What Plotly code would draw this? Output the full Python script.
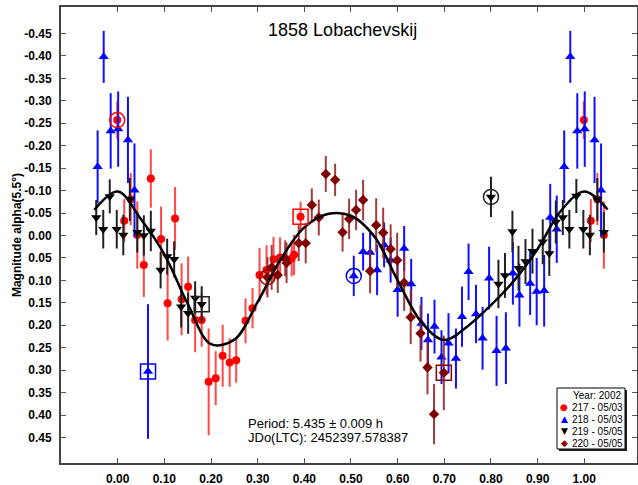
import plotly.graph_objects as go

# ---------------- data ----------------
x_red = [-0.001, 0.014, 0.028, 0.042, 0.056, 0.071, 0.093, 0.107, 0.123, 0.137, 0.151, 0.166, 0.180,
         0.195, 0.210, 0.225, 0.240, 0.254, 0.274, 0.289, 0.304, 0.319, 0.334, 0.348, 0.373, 0.378,
         0.392, 0.999, 1.014, 1.028, 1.042]
y_red = [-0.257, -0.033, -0.081, -0.001, 0.066, -0.127, 0.008, 0.151, -0.038, 0.142, 0.114, 0.188, 0.188,
         0.326, 0.318, 0.268, 0.283, 0.278, 0.190, 0.162, 0.088, 0.077, 0.053, 0.049, 0.051, 0.043,
         -0.042, -0.257, -0.033, -0.081, -0.001]
e_red = [0.042, 0.048, 0.058, 0.075, 0.071, 0.065, 0.072, 0.083, 0.070, 0.080, 0.067, 0.072, 0.060,
         0.119, 0.060, 0.069, 0.054, 0.050, 0.050, 0.045, 0.060, 0.055, 0.050, 0.045, 0.040, 0.045,
         0.033, 0.042, 0.048, 0.058, 0.075]

x_blue = [-0.043, -0.030, -0.015, 0.001, 0.022, 0.036, 0.065, 0.506, 0.526, 0.541, 0.556, 0.571, 0.585,
          0.600, 0.614, 0.629, 0.651, 0.665, 0.679, 0.694, 0.709, 0.725, 0.738, 0.752, 0.768, 0.782,
          0.796, 0.812, 0.832, 0.847, 0.861, 0.884, 0.898, 0.914, 0.927, 0.941, 0.957, 0.970, 0.985,
          1.001, 1.022, 1.036]
y_blue = [-0.153, -0.398, -0.233, -0.237, -0.213, -0.101, 0.303, 0.090, 0.036, 0.038, 0.077, 0.021, 0.055,
          0.121, 0.029, 0.108, 0.196, 0.233, 0.203, 0.271, 0.240, 0.274, 0.181, 0.081, 0.175, 0.229,
          0.095, 0.257, 0.251, 0.084, 0.133, 0.107, 0.125, 0.123, -0.040, -0.014, -0.153, -0.398, -0.233,
          -0.237, -0.213, -0.101]
e_blue = [0.081, 0.058, 0.084, 0.084, 0.096, 0.104, 0.150, 0.045, 0.042, 0.045, 0.056, 0.050, 0.050,
          0.060, 0.050, 0.056, 0.059, 0.059, 0.060, 0.060, 0.067, 0.067, 0.067, 0.063, 0.065, 0.070,
          0.070, 0.078, 0.080, 0.070, 0.070, 0.070, 0.075, 0.080, 0.075, 0.075, 0.081, 0.058, 0.084,
          0.084, 0.096, 0.104]

x_blk = [-0.046, -0.031, -0.017, -0.002, 0.012, 0.026, 0.042, 0.056, 0.071, 0.092, 0.106, 0.121, 0.136,
         0.151, 0.166, 0.180, 0.800, 0.816, 0.830, 0.846, 0.859, 0.874, 0.889, 0.911, 0.925, 0.939,
         0.954, 0.968, 0.983, 0.998, 1.012, 1.028, 1.042]
y_blk = [-0.040, -0.014, -0.087, -0.014, -0.001, -0.080, -0.007, 0.000, -0.010, 0.077, 0.047, 0.053, 0.159,
         0.173, 0.139, 0.153, -0.086, 0.108, 0.089, -0.009, 0.073, 0.058, 0.035, 0.014, 0.040, -0.030,
         -0.040, -0.014, -0.088, -0.014, -0.001, -0.080, -0.007]
e_blk = [0.039, 0.043, 0.038, 0.043, 0.045, 0.048, 0.045, 0.045, 0.045, 0.041, 0.040, 0.040, 0.046,
         0.046, 0.037, 0.040, 0.045, 0.054, 0.050, 0.046, 0.050, 0.050, 0.050, 0.050, 0.050, 0.048,
         0.039, 0.043, 0.038, 0.043, 0.045, 0.048, 0.045]

x_dr = [0.321, 0.330, 0.343, 0.359, 0.362, 0.388, 0.403, 0.416, 0.431, 0.446, 0.466, 0.482, 0.496,
        0.511, 0.526, 0.541, 0.554, 0.569, 0.585, 0.599, 0.614, 0.628, 0.649, 0.664, 0.678, 0.699]
y_dr = [0.093, 0.071, 0.088, 0.051, 0.061, 0.017, 0.017, -0.068, -0.040, -0.137, -0.124, -0.007, -0.037,
        -0.057, -0.079, 0.079, -0.023, -0.006, 0.030, 0.055, 0.105, 0.182, 0.218, 0.294, 0.398, 0.306]
e_dr = [0.045, 0.050, 0.040, 0.040, 0.045, 0.040, 0.045, 0.037, 0.040, 0.040, 0.036, 0.043, 0.045,
        0.045, 0.045, 0.050, 0.060, 0.056, 0.055, 0.061, 0.063, 0.060, 0.063, 0.060, 0.067, 0.083]

# fitted light curve (read at regular phase steps)
x_fit = [-0.05, 0.00, 0.05, 0.10, 0.15, 0.20, 0.25, 0.30, 0.35, 0.40, 0.45, 0.50, 0.55,
         0.60, 0.65, 0.70, 0.75, 0.80, 0.85, 0.90, 0.95, 1.00, 1.05]
y_fit = [-0.057, -0.098, -0.036, 0.042, 0.152, 0.242, 0.232, 0.148, 0.052, -0.018, -0.048, -0.044, 0.002,
         0.100, 0.192, 0.233, 0.202, 0.155, 0.100, 0.030, -0.055, -0.098, -0.058]

# first / last point of each session (highlighted)
hl_x = [-0.001, 0.392, 0.065, 0.506, 0.180, 0.800, 0.321, 0.699]
hl_y = [-0.257, -0.042, 0.303, 0.090, 0.153, -0.086, 0.093, 0.306]
hl_sym = ["circle-open", "square-open", "square-open", "circle-open",
          "square-open", "circle-open", "circle-open", "square-open"]
hl_col = ["#ff0000", "#ff0000", "#0000ff", "#0000ff", "#222222", "#222222", "#8b0000", "#8b0000"]

x_ticks = [0.0, 0.1, 0.2, 0.3, 0.4, 0.5, 0.6, 0.7, 0.8, 0.9, 1.0]
x_ticktext = ["0.00", "0.10", "0.20", "0.30", "0.40", "0.50", "0.60", "0.70", "0.80", "0.90", "1.00"]
y_ticks = [-0.45, -0.40, -0.35, -0.30, -0.25, -0.20, -0.15, -0.10, -0.05, 0.0,
           0.05, 0.10, 0.15, 0.20, 0.25, 0.30, 0.35, 0.40, 0.45]
y_ticktext = ["-0.45", "-0.40", "-0.35", "-0.30", "-0.25", "-0.20", "-0.15", "-0.10", "-0.05", "0.00",
              "0.05", "0.10", "0.15", "0.20", "0.25", "0.30", "0.35", "0.40", "0.45"]

legend_title = "Year: 2002"
legend_labels = ["217 - 05/03", "218 - 05/03", "219 - 05/05", "220 - 05/05"]
legend_syms = ["\u25CF", "\u25B2", "\u25BC", "\u25C6"]
legend_cols = ["#ff0000", "#0000ff", "#000000", "#8b0000"]

FONT = "Liberation Sans, Arial, sans-serif"

fig = go.Figure()


def add_series(x, y, e, symbol, color, ecolor, size, name):
    fig.add_trace(go.Scatter(
        x=x, y=y, mode="markers", name=name, showlegend=False,
        marker=dict(symbol=symbol, color=color, size=size, line=dict(width=0)),
        error_y=dict(type="data", array=e, visible=True, color=ecolor, thickness=2, width=0),
    ))


add_series(x_red, y_red, e_red, "circle", "#ff0000", "rgba(255,40,40,0.85)", 8, legend_labels[0])
add_series(x_blue, y_blue, e_blue, "triangle-up", "#0000ff", "#1010ff", 9, legend_labels[1])
add_series(x_blk, y_blk, e_blk, "triangle-down", "#000000", "#222222", 9, legend_labels[2])
add_series(x_dr, y_dr, e_dr, "diamond", "#800000", "rgba(150,40,40,0.9)", 8, legend_labels[3])

fig.add_trace(go.Scatter(x=x_fit, y=y_fit, mode="lines", showlegend=False,
                         line=dict(color="black", width=2.5, shape="spline", smoothing=1.0)))

fig.add_trace(go.Scatter(x=hl_x, y=hl_y, mode="markers", showlegend=False,
                         marker=dict(symbol=hl_sym, size=15, color=hl_col,
                                     line=dict(width=1.5, color=hl_col))))

# plot area in pixels
L, R, T, B = 61, 637, 7, 463
W, H = 638, 485


def px(xp):
    return (xp - L) / (R - L)


def py(yp):
    return (B - yp) / (B - T)


axis_common = dict(showline=True, mirror="ticks", linecolor="#444444", linewidth=2,
                   ticks="inside", ticklen=5, tickwidth=1, tickcolor="#555555",
                   showgrid=False, zeroline=False,
                   tickfont=dict(family=FONT, size=12, color="black", weight="bold"))

fig.update_layout(
    width=W, height=H,
    margin=dict(l=L, r=W - R, t=T, b=H - B, autoexpand=False),
    paper_bgcolor="white", plot_bgcolor="white",
    title=dict(text="1858 Lobachevskij", x=(L + R) / 2 / W - 0.01, xanchor="center",
               y=1 - 30 / H, yanchor="middle", yref="container",
               font=dict(family=FONT, size=18, color="black")),
    xaxis=dict(range=[-0.1215, 1.113], tickvals=x_ticks, ticktext=x_ticktext,
               ticklabelstandoff=4, **axis_common),
    yaxis=dict(range=[0.5068, -0.509], tickvals=y_ticks, ticktext=y_ticktext,
               ticklabelstandoff=5,
               title=dict(text="Magnitude alpha(5.5°)", standoff=0,
                          font=dict(family=FONT, size=12, color="black", weight="bold")),
               **axis_common),
    showlegend=False,
)

# period annotation
fig.add_annotation(text="Period: 5.435 \u00B1 0.009 h", xref="paper", yref="paper",
                   x=px(246), y=py(423), xanchor="left", yanchor="middle", showarrow=False,
                   font=dict(family=FONT, size=13, color="black"))
fig.add_annotation(text="JDo(LTC): 2452397.578387", xref="paper", yref="paper",
                   x=px(246), y=py(437), xanchor="left", yanchor="middle", showarrow=False,
                   font=dict(family=FONT, size=13, color="black"))

# custom legend box with shadow
bx0, bx1, by0, by1 = 557, 625, 388, 449
fig.add_shape(type="rect", xref="paper", yref="paper", x0=px(bx0 + 2), x1=px(bx1 + 2),
              y0=py(by1 + 2), y1=py(by0 + 2), fillcolor="#222222", line=dict(width=0), layer="above")
fig.add_shape(type="rect", xref="paper", yref="paper", x0=px(bx0), x1=px(bx1),
              y0=py(by1), y1=py(by0), fillcolor="white", line=dict(width=1, color="black"), layer="above")
fig.add_annotation(text=legend_title, xref="paper", yref="paper", x=px(623), y=py(395),
                   xanchor="right", yanchor="middle", showarrow=False,
                   font=dict(family=FONT, size=10, color="black"))
for i, (lab, sym, col) in enumerate(zip(legend_labels, legend_syms, legend_cols)):
    yy = 407 + 12 * i
    fig.add_annotation(text=sym, xref="paper", yref="paper", x=px(564), y=py(yy),
                       xanchor="center", yanchor="middle", showarrow=False,
                       font=dict(family="DejaVu Sans", size=9, color=col))
    fig.add_annotation(text=lab, xref="paper", yref="paper", x=px(570), y=py(yy),
                       xanchor="left", yanchor="middle", showarrow=False,
                       font=dict(family=FONT, size=10, color="black"))

fig.write_html("out.html")
